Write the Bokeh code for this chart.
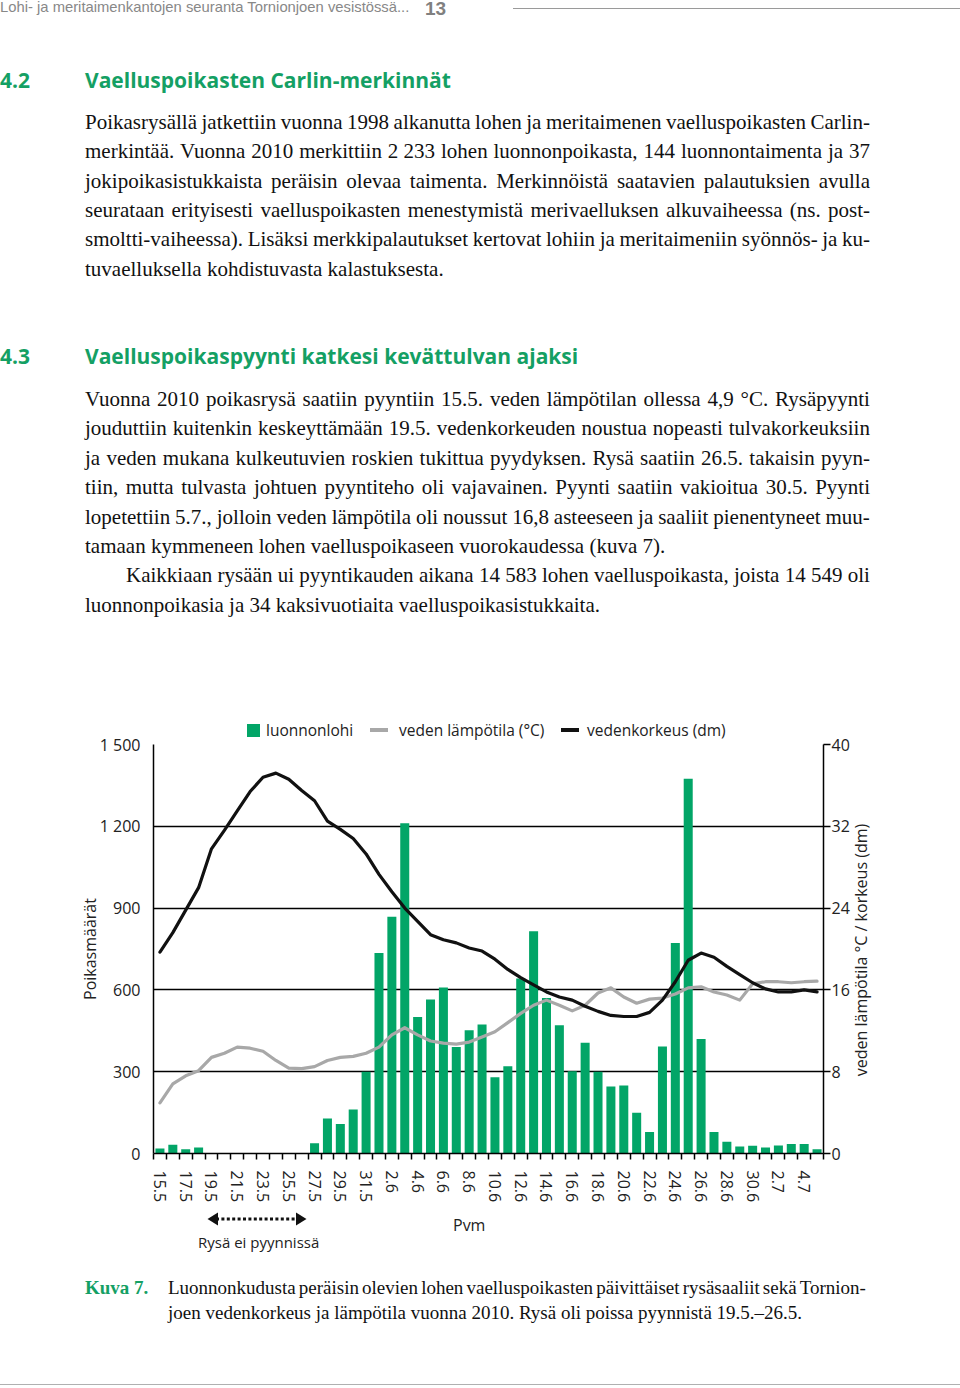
from bokeh.plotting import figure
from bokeh.models import (Range1d, LinearAxis, FixedTicker, Div, ColumnDataSource)
from bokeh.layouts import column
from bokeh.embed import file_html
from bokeh.resources import INLINE

# ---------------- data ----------------
dates = ["15.5", "16.5", "17.5", "18.5", "19.5", "20.5", "21.5", "22.5", "23.5",
         "24.5", "25.5", "26.5", "27.5", "28.5", "29.5", "30.5", "31.5",
         "1.6", "2.6", "3.6", "4.6", "5.6", "6.6", "7.6", "8.6", "9.6", "10.6",
         "11.6", "12.6", "13.6", "14.6", "15.6", "16.6", "17.6", "18.6", "19.6",
         "20.6", "21.6", "22.6", "23.6", "24.6", "25.6", "26.6", "27.6", "28.6",
         "29.6", "30.6", "1.7", "2.7", "3.7", "4.7", "5.7"]

luonnonlohi = [18, 32, 16, 22, 0, 0, 0, 0, 0, 0, 0, 0, 38, 128, 108, 161, 300,
               735, 868, 1211, 501, 565, 609, 391, 452, 473, 280, 320, 642, 815,
               570, 470, 302, 406, 300, 246, 249, 149, 79, 392, 772, 1374, 420,
               79, 43, 26, 28, 22, 29, 35, 35, 16]

lampotila = [4.95, 6.8, 7.6, 8.1, 9.4, 9.8, 10.4, 10.3, 10.0, 9.1, 8.35, 8.3,
             8.5, 9.1, 9.4, 9.5, 9.8, 10.4, 11.6, 12.3, 11.6, 11.0, 10.8, 10.7,
             10.9, 11.4, 11.9, 12.8, 13.7, 14.5, 15.0, 14.5, 13.95, 14.5, 15.7,
             16.2, 15.3, 14.7, 15.1, 15.2, 15.6, 16.2, 16.3, 15.8, 15.5, 15.0,
             16.6, 16.8, 16.8, 16.7, 16.8, 16.85]

vedenkorkeus = [19.7, 21.6, 23.8, 26.0, 29.8, 31.6, 33.5, 35.4, 36.8, 37.2,
                36.6, 35.5, 34.5, 32.5, 31.7, 30.8, 29.3, 27.3, 25.6, 24.0,
                22.7, 21.4, 20.9, 20.6, 20.1, 19.8, 19.0, 18.0, 17.2, 16.5,
                15.8, 15.3, 15.0, 14.4, 13.9, 13.5, 13.4, 13.4, 13.8, 15.0,
                16.8, 18.9, 19.6, 19.2, 18.3, 17.5, 16.7, 16.1, 15.8, 15.8,
                16.0, 15.8]

left_ticks = [0, 300, 600, 900, 1200, 1500]
left_labels = ["0", "300", "600", "900", "1 200", "1 500"]
right_ticks = [0, 8, 16, 24, 32, 40]

legend_labels = ["luonnonlohi", "veden lämpötila (°C)", "vedenkorkeus (dm)"]
right_axis_label = "veden lämpötila °C / korkeus (dm)"

# ---------------- styles ----------------
GREEN_BAR = "#02a567"
GREEN_TXT = "#14a064"
GRAY_LINE = "#a8a8a8"
BLACK_LINE = "#111111"
SANS = "Open Sans"
TXT = "#222222"

n = len(dates)
xc = [i + 0.5 for i in range(n)]
src = ColumnDataSource(dict(x=xc, catch=luonnonlohi, temp=lampotila, level=vedenkorkeus))

p = figure(width=960, height=508, x_range=Range1d(0, n), y_range=Range1d(0, 1500),
           output_backend="svg", toolbar_location=None,
           min_border_left=153, min_border_right=137, min_border_top=44,
           min_border_bottom=55)
p.extra_y_ranges = {"r": Range1d(0, 40)}
p.outline_line_color = None
p.background_fill_color = "white"
p.border_fill_color = "white"

bars = p.vbar(x="x", top="catch", width=0.7, source=src, fill_color=GREEN_BAR,
              line_color=None)
gray = p.line(x="x", y="temp", source=src, y_range_name="r", line_color=GRAY_LINE,
              line_width=3.2, line_cap="round", line_join="round")
black = p.line(x="x", y="level", source=src, y_range_name="r", line_color=BLACK_LINE,
               line_width=3.2, line_cap="round", line_join="round")

# x axis
xa = p.xaxis[0]
xa.ticker = FixedTicker(ticks=[xc[i] for i in range(0, n, 2)],
                        minor_ticks=list(range(n + 1)))
xa.major_label_overrides = {xc[i]: dates[i] for i in range(0, n, 2)}
xa.major_label_orientation = "vertical"
xa.major_tick_out = 0
xa.major_tick_in = 0
xa.minor_tick_out = 6
xa.minor_tick_in = 0
xa.minor_tick_line_color = "black"
xa.minor_tick_line_width = 1.5
xa.axis_line_color = "black"
xa.axis_line_width = 1.5
xa.major_label_standoff = 11
xa.major_label_text_font = SANS
xa.major_label_text_font_size = "16px"
xa.major_label_text_color = TXT

# left axis
ya = p.yaxis[0]
ya.ticker = FixedTicker(ticks=left_ticks, minor_ticks=[])
ya.major_label_overrides = {t: l for t, l in zip(left_ticks, left_labels)}
ya.major_tick_out = 0
ya.major_tick_in = 0
ya.axis_line_color = "black"
ya.axis_line_width = 1.5
ya.major_label_standoff = 13
ya.major_label_text_font = SANS
ya.major_label_text_font_size = "16px"
ya.major_label_text_color = TXT
ya.axis_label = "Poikasmäärät"
ya.axis_label_text_font = SANS
ya.axis_label_text_font_size = "16px"
ya.axis_label_text_font_style = "normal"
ya.axis_label_text_color = TXT
ya.axis_label_standoff = -4

# right axis (its label is drawn as rotated page text below)
ra = LinearAxis(y_range_name="r", ticker=FixedTicker(ticks=right_ticks, minor_ticks=[]))
ra.major_tick_out = 7
ra.major_tick_in = 0
ra.major_tick_line_width = 1.5
ra.axis_line_color = "black"
ra.axis_line_width = 1.5
ra.major_label_standoff = 1
ra.major_label_text_font = SANS
ra.major_label_text_font_size = "16px"
ra.major_label_text_color = TXT
p.add_layout(ra, "right")

p.xgrid.visible = False
p.ygrid.ticker = FixedTicker(ticks=left_ticks, minor_ticks=[])
p.ygrid.grid_line_color = "black"
p.ygrid.grid_line_width = 1.5

# ---------------- page text ----------------
SERIF = "font-family:'Liberation Serif',serif;color:#111;"
BODY = SERIF + "font-size:21px;line-height:21px;"
SANS16 = "font-family:'Open Sans',sans-serif;font-size:16px;line-height:16px;color:#222;"
SANS155 = "font-family:'Open Sans',sans-serif;font-size:15.5px;line-height:16px;color:#222;"


def box(left, top, css, inner):
    return (f'<div style="position:absolute;left:{left}px;top:{top}px;'
            f'white-space:nowrap;{css}">{inner}</div>')


def rect(left, top, w, h, color):
    return (f'<div style="position:absolute;left:{left}px;top:{top}px;width:{w}px;'
            f'height:{h}px;background:{color}"></div>')


def jline(left, top, width, css, text):
    inner = "".join(f"<span>{w}</span>" for w in text.split(" "))
    return (f'<div style="position:absolute;left:{left}px;top:{top}px;width:{width}px;'
            f'display:flex;justify-content:space-between;column-gap:3px;'
            f'white-space:nowrap;{css}">{inner}</div>')


sec42 = ["Poikasrysällä jatkettiin vuonna 1998 alkanutta lohen ja meritaimenen vaelluspoikasten Carlin-",
         "merkintää. Vuonna 2010 merkittiin 2\u00a0233 lohen luonnonpoikasta, 144 luonnontaimenta ja 37",
         "jokipoikasistukkaista peräisin olevaa taimenta. Merkinnöistä saatavien palautuksien avulla",
         "seurataan erityisesti vaelluspoikasten menestymistä merivaelluksen alkuvaiheessa (ns. post-",
         "smoltti-vaiheessa). Lisäksi merkkipalautukset kertovat lohiin ja meritaimeniin syönnös- ja ku-",
         "tuvaelluksella kohdistuvasta kalastuksesta."]
sec43 = ["Vuonna 2010 poikasrysä saatiin pyyntiin 15.5. veden lämpötilan ollessa 4,9 °C. Rysäpyynti",
         "jouduttiin kuitenkin keskeyttämään 19.5. vedenkorkeuden noustua nopeasti tulvakorkeuksiin",
         "ja veden mukana kulkeutuvien roskien tukittua pyydyksen. Rysä saatiin 26.5. takaisin pyyn-",
         "tiin, mutta tulvasta johtuen pyyntiteho oli vajavainen. Pyynti saatiin vakioitua 30.5. Pyynti",
         "lopetettiin 5.7., jolloin veden lämpötila oli noussut 16,8 asteeseen ja saaliit pienentyneet muu-",
         "tamaan kymmeneen lohen vaelluspoikaseen vuorokaudessa (kuva 7).",
         "Kaikkiaan rysään ui pyyntikauden aikana 14\u00a0583 lohen vaelluspoikasta, joista 14\u00a0549 oli",
         "luonnonpoikasia ja 34 kaksivuotiaita vaelluspoikasistukkaita."]
last43 = {5, 7}

H = ("font-family:'Open Sans',sans-serif;font-weight:700;font-size:21px;"
     "line-height:21px;color:" + GREEN_TXT + ";")
parts = []
parts.append(box(0, 0, "font-family:'Liberation Sans',sans-serif;font-size:14.8px;line-height:15px;color:#888;",
                 "Lohi- ja meritaimenkantojen seuranta Tornionjoen vesistössä..."))
parts.append(box(425, -1, "font-family:'Liberation Sans',sans-serif;font-weight:700;font-size:19px;line-height:19px;color:#808080;", "13"))
parts.append('<div style="position:absolute;left:513px;top:8px;width:447px;height:0;border-top:1px solid #9a9a9a"></div>')
parts.append(box(0, 70, H, "4.2"))
parts.append(box(85, 70, H, "Vaelluspoikasten Carlin-merkinnät"))
for k, line in enumerate(sec42):
    top = round(111.8 + 29.4 * k, 1)
    if k == len(sec42) - 1:
        parts.append(box(85, top, BODY, line))
    else:
        parts.append(jline(85, top, 785, BODY, line))
parts.append(box(0, 346, H, "4.3"))
parts.append(box(85, 346, H, "Vaelluspoikaspyynti katkesi kevättulvan ajaksi"))
for k, line in enumerate(sec43):
    top = round(388.8 + 29.43 * k, 1)
    left, width = (126, 744) if k == 6 else (85, 785)
    if k in last43:
        parts.append(box(left, top, BODY, line))
    else:
        parts.append(jline(left, top, width, BODY, line))

top_html = '<div style="position:relative;width:960px;height:700px">' + "".join(parts) + "</div>"
div_top = Div(text=top_html, width=960, height=700, margin=0)

# bottom block (page y 1208..1388); negative tops reach up into the chart area
Y0 = 1208
CAP = SERIF + "font-size:19px;line-height:19px;"
bparts = []
# legend above the plot frame (centre line at page y 730)
ly = 730 - Y0
bparts.append(rect(247, ly - 6.5, 13, 13, GREEN_BAR))
bparts.append(box(266, ly - 8.5, SANS155, legend_labels[0]))
bparts.append(rect(370, ly - 1.75, 18, 3.5, GRAY_LINE))
bparts.append(box(399, ly - 8.5, SANS155, legend_labels[1]))
bparts.append(rect(561, ly - 1.75, 18, 3.5, BLACK_LINE))
bparts.append(box(587, ly - 8.5, SANS155, legend_labels[2]))
# right axis title, reading upwards
bparts.append('<div style="position:absolute;left:861px;top:' + str(950 - Y0) + 'px;white-space:nowrap;'
              'transform:translate(-50%,-50%) rotate(-90deg);' + SANS16 + '">'
              + right_axis_label + '</div>')
# "trap not fishing" arrow and x title
bparts.append('<svg style="position:absolute;left:0;top:0" width="960" height="40">'
              '<line x1="216" y1="11" x2="298" y2="11" stroke="#111" stroke-width="3" stroke-dasharray="3 2.4"/>'
              '<polygon points="207.5,11 218,4.5 218,17.5" fill="#111"/>'
              '<polygon points="306.5,11 296,4.5 296,17.5" fill="#111"/></svg>')
bparts.append(box(453, 8.5, SANS16, "Pvm"))
bparts.append(box(198, 26, "font-family:'Open Sans',sans-serif;font-size:15px;line-height:16px;color:#222;", "Rysä ei pyynnissä"))
bparts.append(box(85, 70.4, "font-family:'Liberation Serif',serif;font-weight:700;font-size:19px;line-height:19px;color:" + GREEN_TXT + ";", "Kuva 7."))
bparts.append(jline(168, 70.4, 698, CAP, "Luonnonkudusta peräisin olevien lohen vaelluspoikasten päivittäiset rysäsaaliit sekä Tornion-"))
bparts.append(box(168, 95.4, CAP, "joen vedenkorkeus ja lämpötila vuonna 2010. Rysä oli poissa pyynnistä 19.5.–26.5."))
bparts.append('<div style="position:absolute;left:0;top:176px;width:960px;height:0;border-top:1px solid #b0b0b0"></div>')
bot_html = '<div style="position:relative;width:960px;height:180px">' + "".join(bparts) + "</div>"
div_bot = Div(text=bot_html, width=960, height=180, margin=0)

layout = column(div_top, p, div_bot, spacing=0)
open("out.html", "w").write(file_html(layout, INLINE))
